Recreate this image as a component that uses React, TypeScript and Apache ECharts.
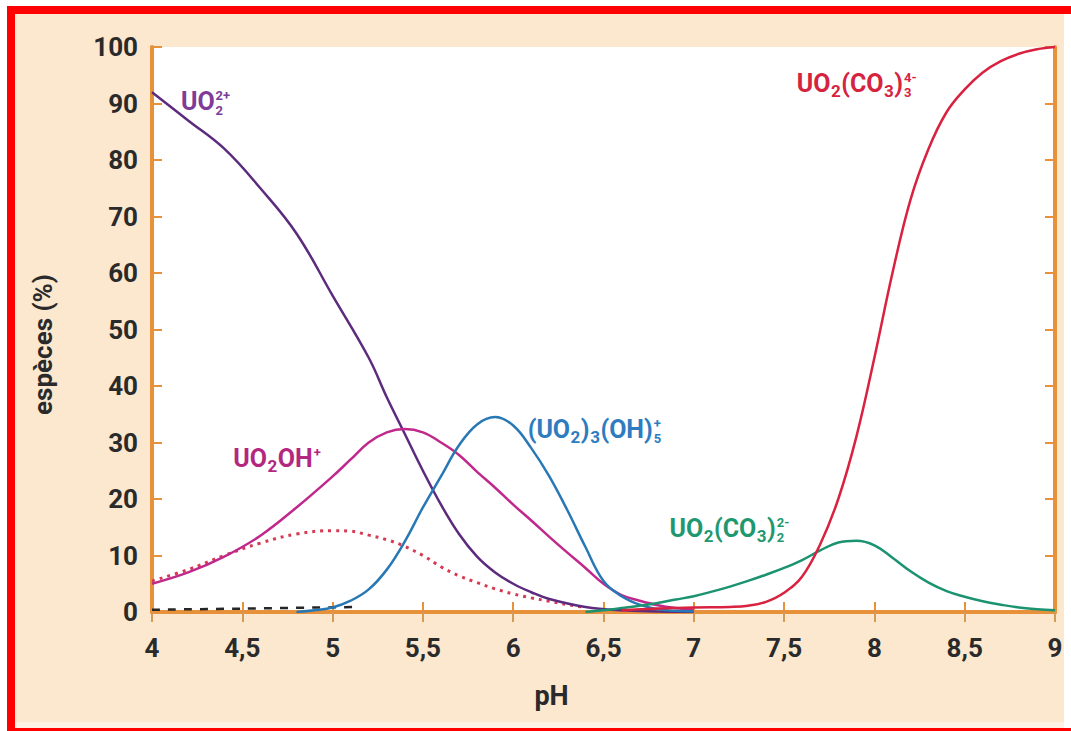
import React, { useEffect, useRef } from 'react';
import * as echarts from 'echarts';

// ---------- tick labels ----------
const X_TICK_LABELS = ['4', '4,5', '5', '5,5', '6', '6,5', '7', '7,5', '8', '8,5', '9'];
const Y_TICK_LABELS = ['0', '10', '20', '30', '40', '50', '60', '70', '80', '90', '100'];

// ---------- series data (pH, % species) ----------
const UO2_PH = [4.0, 4.2, 4.4, 4.6, 4.8, 5.0, 5.2, 5.3, 5.4, 5.5, 5.6, 5.7, 5.8, 5.9, 6.0, 6.1, 6.2, 6.4, 6.6, 6.8, 7.0];
const UO2_VAL = [92, 87, 82, 75, 67, 56, 45, 38, 31.5, 25, 19, 13.8, 9.8, 7, 5, 3.5, 2.3, 0.9, 0.3, 0.1, 0];

const UO2OH_PH = [4.0, 4.2, 4.4, 4.6, 4.8, 5.0, 5.1, 5.2, 5.3, 5.4, 5.5, 5.6, 5.7, 5.8, 5.9, 6.0, 6.1, 6.2, 6.3, 6.4, 6.5, 6.6, 6.7, 6.8, 6.9, 7.0];
const UO2OH_VAL = [5, 7, 9.8, 13.5, 18.5, 24, 27, 30, 31.8, 32.4, 31.8, 30, 27.8, 24.8, 22, 19, 16.2, 13.3, 10.5, 7.8, 5, 3, 2, 1.2, 0.7, 0.4];

const TRIMER_PH = [4.8, 4.9, 5.0, 5.1, 5.2, 5.3, 5.4, 5.5, 5.6, 5.7, 5.8, 5.9, 6.0, 6.1, 6.2, 6.3, 6.4, 6.5, 6.6, 6.7, 6.8, 6.9, 7.0];
const TRIMER_VAL = [0, 0.3, 0.8, 2, 4, 7.5, 12.5, 18.5, 24, 29.5, 33.2, 34.5, 33, 29, 24, 18, 11.5, 5.5, 2.8, 1.3, 0.5, 0.2, 0.1];

const DASH_PH = [4.0, 4.5, 5.15];
const DASH_VAL = [0.4, 0.6, 0.9];

const DOTTED_PH = [4.0, 4.2, 4.4, 4.6, 4.8, 5.0, 5.1, 5.2, 5.3, 5.4, 5.5, 5.6, 5.7, 5.8, 5.9, 6.0, 6.1, 6.2, 6.3, 6.4];
const DOTTED_VAL = [5.5, 7.5, 10, 12.2, 13.8, 14.4, 14.3, 13.6, 12.8, 11.6, 10, 8, 6.4, 5.2, 4.1, 3.2, 2.5, 1.9, 1.3, 0.8];

const DICARB_PH = [6.4, 6.5, 6.6, 6.7, 6.8, 6.9, 7.0, 7.1, 7.2, 7.3, 7.4, 7.5, 7.6, 7.7, 7.8, 7.9, 8.0, 8.1, 8.2, 8.3, 8.4, 8.5, 8.6, 8.7, 8.8, 8.9, 9.0];
const DICARB_VAL = [0, 0.3, 0.7, 1.1, 1.6, 2.2, 2.8, 3.6, 4.5, 5.5, 6.6, 7.8, 9.2, 10.9, 12.3, 12.6, 11.8, 9.6, 7.2, 5.2, 3.7, 2.7, 1.9, 1.3, 0.8, 0.5, 0.3];

const TRICARB_PH = [6.6, 6.8, 7.0, 7.2, 7.3, 7.4, 7.5, 7.6, 7.7, 7.8, 7.9, 8.0, 8.1, 8.2, 8.3, 8.4, 8.5, 8.6, 8.7, 8.8, 8.9, 9.0];
const TRICARB_VAL = [0.3, 0.6, 0.8, 0.9, 1.1, 1.8, 3.4, 6.3, 12, 20, 31, 45, 60, 73, 82, 88.5, 92.5, 95.5, 97.5, 98.8, 99.6, 100];

// ---------- species labels (anchored in data coordinates) ----------
type Tok = { k: 'n' | 'sub'; t: string } | { k: 'stack'; sup: string; sub: string };
const SPECIES_LABELS: { color: string; at: [number, number]; toks: Tok[] }[] = [
  { color: '#7e3c98', at: [4.16, 88.8], toks: [{ k: 'n', t: 'UO' }, { k: 'stack', sup: '2+', sub: '2' }] },
  { color: '#b3277f', at: [4.45, 25.7], toks: [{ k: 'n', t: 'UO' }, { k: 'sub', t: '2' }, { k: 'n', t: 'OH' }, { k: 'stack', sup: '+', sub: '' }] },
  { color: '#2e7cbf', at: [6.08, 30.8], toks: [{ k: 'n', t: '(UO' }, { k: 'sub', t: '2' }, { k: 'n', t: ')' }, { k: 'sub', t: '3' }, { k: 'n', t: '(OH)' }, { k: 'stack', sup: '+', sub: '5' }] },
  { color: '#1f9870', at: [6.865, 13.3], toks: [{ k: 'n', t: 'UO' }, { k: 'sub', t: '2' }, { k: 'n', t: '(CO' }, { k: 'sub', t: '3' }, { k: 'n', t: ')' }, { k: 'stack', sup: '2-', sub: '2' }] },
  { color: '#d4243f', at: [7.57, 92], toks: [{ k: 'n', t: 'UO' }, { k: 'sub', t: '2' }, { k: 'n', t: '(CO' }, { k: 'sub', t: '3' }, { k: 'n', t: ')' }, { k: 'stack', sup: '4-', sub: '3' }] },
];

const FONT = 'Roboto, "DejaVu Sans", sans-serif';
const TEXT_DARK = '#2a2a2a';
const ORANGE = '#e8913b';

function pairs(xs: number[], ys: number[]) {
  return xs.map((x, i) => [x, ys[i]]);
}

export default function App() {
  const ref = useRef<HTMLDivElement>(null);

  useEffect(() => {
    if (!ref.current) return;
    const chart = echarts.init(ref.current, undefined, { renderer: 'svg' });

    const lineSeries = (name: string, data: number[][], color: string, width: number, type: any = 'solid', z = 3) => ({
      name,
      type: 'line',
      data,
      showSymbol: false,
      smooth: 0.4,
      lineStyle: { color, width, type },
      z,
      silent: true,
    });

    chart.setOption({
      animation: false,
      backgroundColor: 'transparent',
      grid: { left: 152, right: 16, top: 47, bottom: 119, show: true, backgroundColor: '#ffffff', borderWidth: 0 },
      xAxis: [
        {
          type: 'value', min: 4, max: 9, interval: 0.5, position: 'bottom',
          name: 'pH', nameLocation: 'middle', nameGap: 70,
          nameTextStyle: { color: TEXT_DARK, fontSize: 27, fontWeight: 'bold', fontFamily: FONT, padding: [0, 104, 0, 0] },
          axisLine: { show: true, lineStyle: { color: ORANGE, width: 4 } },
          axisTick: { show: true, inside: true, length: 10, lineStyle: { color: ORANGE, width: 2 } },
          axisLabel: {
            color: TEXT_DARK, fontSize: 26, fontWeight: 'bold', fontFamily: FONT, margin: 23,
            formatter: (v: number) => X_TICK_LABELS[Math.round((v - 4) / 0.5)] ?? '',
          },
          splitLine: { show: false },
        },
        {
          type: 'value', min: 4, max: 9, interval: 0.5, position: 'top',
          axisLine: { show: true, lineStyle: { color: ORANGE, width: 4 } },
          axisTick: { show: true, inside: true, length: 10, lineStyle: { color: '#d39a5a', width: 2 } },
          axisLabel: { show: false },
          splitLine: { show: false },
        },
      ],
      yAxis: [
        {
          type: 'value', min: 0, max: 100, interval: 10, position: 'left',
          name: 'espèces (%)', nameLocation: 'middle', nameGap: 96, nameRotate: 90,
          nameTextStyle: { color: TEXT_DARK, fontSize: 26, fontWeight: 'bold', fontFamily: FONT, padding: [0, 30, 0, 0] },
          axisLine: { show: true, lineStyle: { color: ORANGE, width: 4 } },
          axisTick: { show: true, inside: true, length: 10, lineStyle: { color: ORANGE, width: 2 } },
          axisLabel: {
            color: TEXT_DARK, fontSize: 26, fontWeight: 'bold', fontFamily: FONT, margin: 14,
            formatter: (v: number) => Y_TICK_LABELS[Math.round(v / 10)] ?? '',
          },
          splitLine: { show: false },
        },
        {
          type: 'value', min: 0, max: 100, interval: 10, position: 'right',
          axisLine: { show: true, lineStyle: { color: ORANGE, width: 4 } },
          axisTick: { show: true, inside: true, length: 10, lineStyle: { color: ORANGE, width: 2 } },
          axisLabel: { show: false },
          splitLine: { show: false },
        },
      ],
      series: [
        lineSeries('dashed', pairs(DASH_PH, DASH_VAL), '#262626', 2.5, [8, 8], 3),
        lineSeries('dotted', pairs(DOTTED_PH, DOTTED_VAL), '#d63a52', 3, [3, 5], 3),
        lineSeries('UO2 2+', pairs(UO2_PH, UO2_VAL), '#5c2b7e', 2.5, 'solid', 4),
        lineSeries('UO2OH+', pairs(UO2OH_PH, UO2OH_VAL), '#c0288c', 2.5, 'solid', 4),
        lineSeries('(UO2)3(OH)5+', pairs(TRIMER_PH, TRIMER_VAL), '#2778b5', 2.5, 'solid', 4),
        lineSeries('UO2(CO3)2 2-', pairs(DICARB_PH, DICARB_VAL), '#1b9370', 2.5, 'solid', 4),
        lineSeries('UO2(CO3)3 4-', pairs(TRICARB_PH, TRICARB_VAL), '#d8223f', 2.5, 'solid', 5),
      ],
    });

    // species labels with stacked sub/superscripts
    const canvas = document.createElement('canvas');
    const ctx = canvas.getContext('2d')!;
    const measure = (t: string, size: number) => {
      ctx.font = `bold ${size}px Roboto`;
      return ctx.measureText(t).width;
    };
    const F = 25, SUB = 17, ST = 13;
    const txt = (t: string, x: number, baseline: number, size: number, color: string) => ({
      type: 'text', x, y: baseline - 0.34 * size, silent: true, z: 10,
      style: { text: t, fontSize: size, fontWeight: 'bold', fontFamily: FONT, fill: color, align: 'left', verticalAlign: 'middle' },
    });
    const elements: any[] = [];
    SPECIES_LABELS.forEach((lab) => {
      const p = chart.convertToPixel({ xAxisIndex: 0, yAxisIndex: 0 }, lab.at) as number[];
      let x = p[0];
      const b = p[1];
      lab.toks.forEach((tk) => {
        if (tk.k === 'n') {
          elements.push(txt(tk.t, x, b, F, lab.color));
          x += measure(tk.t, F);
        } else if (tk.k === 'sub') {
          elements.push(txt(tk.t, x + 0.5, b + 5, SUB, lab.color));
          x += measure(tk.t, SUB) + 1;
        } else {
          if (tk.sup) elements.push(txt(tk.sup, x + 1, b - 10, ST, lab.color));
          if (tk.sub) elements.push(txt(tk.sub, x + 1, b + 5, ST, lab.color));
          x += Math.max(measure(tk.sup, ST), measure(tk.sub, ST)) + 2;
        }
      });
    });
    chart.setOption({ graphic: { elements } });

    return () => chart.dispose();
  }, []);

  return (
    <div style={{ position: 'fixed', left: 0, top: 0, width: 1071, height: 731, background: '#ffffff', overflow: 'hidden' }}>
      <div style={{ position: 'absolute', left: 15, top: 14, width: 1049, height: 708, background: '#fce7cf' }} />
      <div style={{ position: 'absolute', left: 15, top: 722, width: 1049, height: 6, background: '#fdf1e4' }} />
      <div style={{ position: 'absolute', left: 7, top: 6, width: 1064, height: 8, background: '#ff0000' }} />
      <div style={{ position: 'absolute', left: 7, top: 6, width: 8, height: 725, background: '#ff0000' }} />
      <div style={{ position: 'absolute', left: 7, top: 728, width: 1064, height: 3, background: '#ff0000' }} />
      <div ref={ref} style={{ position: 'absolute', left: 0, top: 0, width: 1071, height: 731 }} />
    </div>
  );
}
